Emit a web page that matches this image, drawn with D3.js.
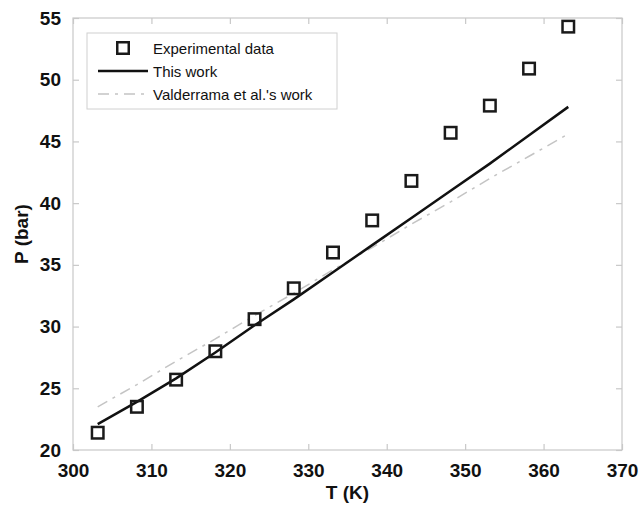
<!DOCTYPE html>
<html>
<head>
<meta charset="utf-8">
<script src="https://cdn.jsdelivr.net/npm/d3@7"></script>
<style>
  body { margin: 0; background: #fff; }
  svg { display: block; font-family: "Liberation Sans", Arial, sans-serif; }
</style>
</head>
<body>
<svg id="chart" width="639" height="505"></svg>
<script>
// data
var temps = [303.15, 308.15, 313.15, 318.15, 323.15, 328.15, 333.15, 338.15, 343.15, 348.15, 353.15, 358.15, 363.15];
var expP = [21.4, 23.5, 25.7, 28.0, 30.6, 33.1, 36.0, 38.6, 41.8, 45.7, 47.9, 50.9, 54.3];
var thisWorkP = [22.1, 23.9, 25.8, 27.9, 30.1, 32.2, 34.4, 36.6, 38.8, 41.0, 43.2, 45.5, 47.8];
var valderramaP = [23.5, 25.3, 27.2, 29.0, 30.9, 32.7, 34.6, 36.4, 38.3, 40.1, 42.0, 43.8, 45.6];
var xTicks = [300, 310, 320, 330, 340, 350, 360, 370];
var yTicks = [20, 25, 30, 35, 40, 45, 50, 55];
var legendNames = ["Experimental data", "This work", "Valderrama et al.'s work"];

var margin = {top: 18, right: 17, bottom: 55, left: 73},
    width = 639 - margin.left - margin.right,
    height = 505 - margin.top - margin.bottom;

var svg = d3.select("#chart");
var g = svg.append("g")
    .attr("transform", "translate(" + margin.left + "," + margin.top + ")");

var x = d3.scaleLinear().domain([300, 370]).range([0, width]);
var y = d3.scaleLinear().domain([20, 55]).range([height, 0]);

var axisColor = "#c8c8c8";
var tickLen = 6;

// frame
g.append("rect")
    .attr("width", width)
    .attr("height", height)
    .attr("fill", "none")
    .attr("stroke", axisColor)
    .attr("stroke-width", 1.2);

// inward ticks on all four sides
function styleAxis(sel) {
  sel.select(".domain").remove();
  sel.selectAll(".tick line").attr("stroke", axisColor).attr("stroke-width", 1.2);
}

var xAxis = g.append("g")
    .attr("transform", "translate(0," + height + ")")
    .call(d3.axisBottom(x).tickValues(xTicks).tickSize(-tickLen).tickPadding(14));
styleAxis(xAxis);
xAxis.selectAll(".tick text")
    .attr("font-size", 19).attr("font-weight", "bold").attr("fill", "#111")
    .attr("font-family", "Liberation Sans, Arial, sans-serif");

var yAxis = g.append("g")
    .call(d3.axisLeft(y).tickValues(yTicks).tickSize(-tickLen).tickPadding(12));
styleAxis(yAxis);
yAxis.selectAll(".tick text")
    .attr("font-size", 19).attr("font-weight", "bold").attr("fill", "#111")
    .attr("font-family", "Liberation Sans, Arial, sans-serif");

var topAxis = g.append("g")
    .call(d3.axisTop(x).tickValues(xTicks).tickSize(-tickLen).tickFormat(""));
styleAxis(topAxis);

var rightAxis = g.append("g")
    .attr("transform", "translate(" + width + ",0)")
    .call(d3.axisRight(y).tickValues(yTicks).tickSize(-tickLen).tickFormat(""));
styleAxis(rightAxis);

// axis titles
svg.append("text")
    .attr("x", margin.left + width / 2)
    .attr("y", 499)
    .attr("text-anchor", "middle")
    .attr("font-size", 19).attr("font-weight", "bold").attr("fill", "#111")
    .text("T (K)");

svg.append("text")
    .attr("transform", "translate(28," + (margin.top + height / 2) + ") rotate(-90)")
    .attr("text-anchor", "middle")
    .attr("font-size", 19).attr("font-weight", "bold").attr("fill", "#111")
    .text("P (bar)");

// lines
var line = d3.line()
    .x(function(d) { return x(d[0]); })
    .y(function(d) { return y(d[1]); });

g.append("path")
    .datum(d3.zip(temps, valderramaP))
    .attr("fill", "none")
    .attr("stroke", "#c4c4c4")
    .attr("stroke-width", 1.5)
    .attr("stroke-dasharray", "11,6,3,6")
    .attr("d", line);

g.append("path")
    .datum(d3.zip(temps, thisWorkP))
    .attr("fill", "none")
    .attr("stroke", "#111")
    .attr("stroke-width", 2.5)
    .attr("d", line);

// experimental squares
var sq = 11.5;
g.selectAll(".pt")
    .data(d3.zip(temps, expP))
    .enter().append("rect")
    .attr("class", "pt")
    .attr("x", function(d) { return x(d[0]) - sq / 2; })
    .attr("y", function(d) { return y(d[1]) - sq / 2; })
    .attr("width", sq)
    .attr("height", sq)
    .attr("fill", "none")
    .attr("stroke", "#1a1a1a")
    .attr("stroke-width", 2.5);

// legend
var legend = svg.append("g").attr("transform", "translate(87,33)");
legend.append("rect")
    .attr("width", 250)
    .attr("height", 76)
    .attr("fill", "#fff")
    .attr("stroke", "#d0d0d0")
    .attr("stroke-width", 1);

var rows = legend.selectAll(".row")
    .data(legendNames)
    .enter().append("g")
    .attr("transform", function(d, i) { return "translate(0," + (15 + i * 23) + ")"; });

rows.append("text")
    .attr("x", 66)
    .attr("y", 5.5)
    .attr("font-size", 15)
    .attr("fill", "#111")
    .text(function(d) { return d; });

rows.filter(function(d, i) { return i === 0; })
    .append("rect")
    .attr("x", 36 - sq / 2).attr("y", -sq / 2)
    .attr("width", sq).attr("height", sq)
    .attr("fill", "none").attr("stroke", "#1a1a1a").attr("stroke-width", 2.5);

rows.filter(function(d, i) { return i === 1; })
    .append("line")
    .attr("x1", 11).attr("x2", 61)
    .attr("stroke", "#111").attr("stroke-width", 2.5);

rows.filter(function(d, i) { return i === 2; })
    .append("line")
    .attr("x1", 11).attr("x2", 61)
    .attr("stroke", "#c4c4c4").attr("stroke-width", 1.5)
    .attr("stroke-dasharray", "11,6,3,6");
</script>
</body>
</html>
